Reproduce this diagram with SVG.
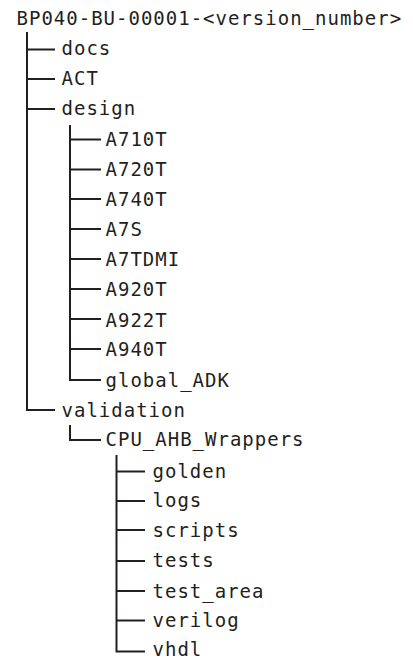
<svg xmlns="http://www.w3.org/2000/svg" width="413" height="659" viewBox="0 0 413 659">
<style>
text{font-family:"DejaVu Sans Mono","Liberation Mono",monospace;font-size:19px;fill:#231f20;letter-spacing:1px}
.c{fill:none;stroke:#231f20;stroke-width:2}
</style>
<rect width="413" height="659" fill="#fff"/>
<g id="connectors" class="c">
<path d="M27 32V410H55M27 49.5H55M27 79H55M27 109H55"/>
<path d="M70 125V380H101M70 139.5H101M70 169.5H101M70 199H101M70 229H101M70 259H101M70 289H101M70 319H101M70 349H101"/>
<path d="M70 425V440H101"/>
<path d="M116.5 455V651.5H145M116.5 471.5H145M116.5 501H145M116.5 530H145M116.5 561H145M116.5 591H145M116.5 620.5H145"/>
</g>
<g id="root"><text x="16.5" y="25">BP040-BU-00001-&lt;version_number&gt;</text></g>
<g id="docs"><text x="61.5" y="55">docs</text></g>
<g id="ACT"><text x="61.5" y="85">ACT</text></g>
<g id="design"><text x="61.5" y="115">design</text></g>
<g id="A710T"><text x="105.5" y="146">A710T</text></g>
<g id="A720T"><text x="105.5" y="176">A720T</text></g>
<g id="A740T"><text x="105.5" y="205.5">A740T</text></g>
<g id="A7S"><text x="105.5" y="236">A7S</text></g>
<g id="A7TDMI"><text x="105.5" y="266">A7TDMI</text></g>
<g id="A920T"><text x="105.5" y="296">A920T</text></g>
<g id="A922T"><text x="105.5" y="326.5">A922T</text></g>
<g id="A940T"><text x="105.5" y="356">A940T</text></g>
<g id="global_ADK"><text x="105.5" y="386.5">global_ADK</text></g>
<g id="validation"><text x="61.5" y="416.5">validation</text></g>
<g id="CPU_AHB_Wrappers"><text x="105.5" y="446">CPU_AHB_Wrappers</text></g>
<g id="golden"><text x="152.5" y="478">golden</text></g>
<g id="logs"><text x="152.5" y="507">logs</text></g>
<g id="scripts"><text x="152.5" y="537">scripts</text></g>
<g id="tests"><text x="152.5" y="567">tests</text></g>
<g id="test_area"><text x="152.5" y="597.5">test_area</text></g>
<g id="verilog"><text x="152.5" y="627">verilog</text></g>
<g id="vhdl"><text x="152.5" y="656">vhdl</text></g>
</svg>
